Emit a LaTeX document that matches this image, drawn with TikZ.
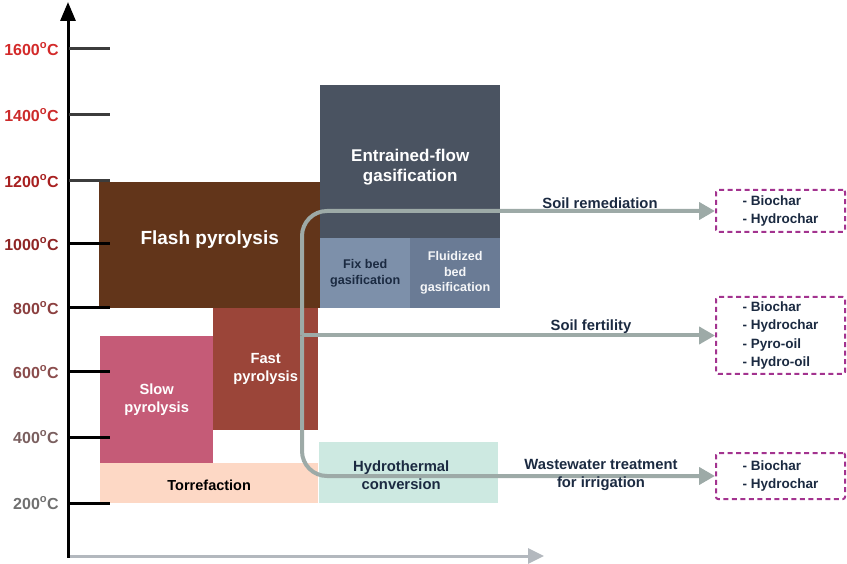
\documentclass[tikz,border=0pt]{standalone}
\usepackage{fontspec}
\setmainfont{Liberation Sans}
\usepackage{xcolor}
\usepackage{tikz}
\usetikzlibrary{positioning, calc, arrows.meta}

\definecolor{flashbrown}{HTML}{62351A}
\definecolor{entrgray}{HTML}{4A5361}
\definecolor{fixblue}{HTML}{7D90AA}
\definecolor{fluidblue}{HTML}{6A7B95}
\definecolor{slowrose}{HTML}{C55B77}
\definecolor{fastred}{HTML}{9B4539}
\definecolor{torrepeach}{HTML}{FDD8C5}
\definecolor{hydromint}{HTML}{CDE9E1}
\definecolor{flowgray}{HTML}{9DAAA7}
\definecolor{axisgray}{HTML}{B3B8BE}
\definecolor{prodpurple}{HTML}{A3338F}
\definecolor{labelnavy}{HTML}{1B2A41}
\definecolor{tickgray}{HTML}{3C3C3C}

\begin{document}
\begin{tikzpicture}[x=1pt, y=-1pt]
		\tikzstyle{stage}=[draw=none, inner sep=0pt, anchor=north west]
		\tikzstyle{stagetext}=[align=center, inner sep=0pt]
		\tikzstyle{flow}=[line width=4pt, draw=flowgray, rounded corners=25pt, -{Triangle[length=16pt, width=17pt]}]
		\tikzstyle{flowtext}=[align=center, text=labelnavy, font=\fontsize{14.8}{18}\selectfont\bfseries]
		\tikzstyle{product}=[draw=prodpurple, line width=2pt, dash pattern=on 5pt off 3.5pt, rounded corners=2pt, minimum width=129pt, align=left, text=labelnavy, font=\fontsize{13.5}{18.5}\selectfont\bfseries]
		
		\useasboundingbox (0,0) rectangle (847,564);
		
		% process windows
		\node (flash) at (99,182) [stage, fill=flashbrown, minimum width=221pt, minimum height=126pt] {};
		\node (entr) at (320,85) [stage, fill=entrgray, minimum width=180pt, minimum height=153pt] {};
		\node (fixbed) at (320,238) [stage, fill=fixblue, minimum width=90pt, minimum height=70pt] {};
		\node (fluid) at (410,238) [stage, fill=fluidblue, minimum width=90pt, minimum height=70pt] {};
		\node (slow) at (100,336) [stage, fill=slowrose, minimum width=113pt, minimum height=127pt] {};
		\node (fast) at (213,308) [stage, fill=fastred, minimum width=105pt, minimum height=122pt] {};
		\node (torre) at (100,463) [stage, fill=torrepeach, minimum width=218pt, minimum height=40pt] {};
		\node (hydro) at (319,442) [stage, fill=hydromint, minimum width=179pt, minimum height=61pt] {};
		
		\node (flashtxt) at ([yshift=6pt]flash.center) [stagetext, text=white, font=\fontsize{19}{23}\selectfont\bfseries] {Flash pyrolysis};
		\node (entrtxt) at ([yshift=-5.5pt]entr.center) [stagetext, text=white, font=\fontsize{17}{20}\selectfont\bfseries] {Entrained-flow\\gasification};
		\node (fixbedtxt) at (fixbed.center) [stagetext, text=labelnavy, font=\fontsize{12.6}{15.5}\selectfont\bfseries] {Fix bed\\gasification};
		\node (fluidtxt) at (fluid.center) [stagetext, text=white!93!fluidblue, font=\fontsize{12.6}{15.5}\selectfont\bfseries] {Fluidized\\bed\\gasification};
		\node (slowtxt) at (slow.center) [stagetext, text=white, font=\fontsize{14.7}{18}\selectfont\bfseries] {Slow\\pyrolysis};
		\node (fasttxt) at (fast.center) [stagetext, text=white, font=\fontsize{14.7}{18}\selectfont\bfseries] {Fast\\pyrolysis};
		\node (torretxt) at ([yshift=-2pt]torre.center) [stagetext, text=black, font=\fontsize{14.5}{18}\selectfont\bfseries] {Torrefaction};
		\node (hydrotxt) at ([xshift=-7.5pt, yshift=-2.5pt]hydro.center) [stagetext, text=labelnavy, font=\fontsize{14.8}{18}\selectfont\bfseries] {Hydrothermal\\conversion};
		
		% temperature axis
		\coordinate (origin) at (68,556);
		\coordinate (ytop) at (68,2);
		\coordinate (xend) at (544,556);
		\draw [line width=3pt, axisgray, -{Triangle[length=16pt, width=15pt]}] (origin) -- (xend);
		\draw [line width=3pt, black, -{Triangle[length=19pt, width=15pt]}] ([yshift=-1.5pt]origin) -- (ytop);
		
		\foreach \yy/\t/\c/\k in {49/1600/D32A2A/tickgray, 115/1400/CC2A2A/tickgray, 181/1200/A82020/tickgray, 244/1000/8F2525/black, 308/800/8B3F3F/black, 372/600/8A4C4C/black, 437/400/7A5F5F/black, 503/200/707070/black}{
			\definecolor{tcol}{HTML}{\c}
			\draw [line width=3pt, \k] (69,\yy) -- (110,\yy);
			\node (lab\t) at (59,\yy) [anchor=east, inner sep=0pt, text=tcol, font=\fontsize{16}{19}\selectfont\bfseries] {\t\textsuperscript{o}C};
		}
		
		% applications and products
		\node (out1) at (780.5,211) [product, minimum height=42pt] {- Biochar\\- Hydrochar};
		\node (out2) at (780.5,335.5) [product, minimum height=77pt] {- Biochar\\- Hydrochar\\- Pyro-oil\\- Hydro-oil};
		\node (out3) at (780.5,476) [product, minimum height=46pt] {- Biochar\\- Hydrochar};
		
		\coordinate (hub) at (302,335.5);
		\draw [flow] (hub) |- (out1.west);
		\draw [flow] (hub) -- (out2.west);
		\draw [flow] (hub) |- (out3.west);
		
		\node (remlbl) at (600,203) [flowtext] {Soil remediation};
		\node (fertlbl) at (591,326.5) [flowtext] {Soil fertility};
		\node (wastelbl) at (601,475) [flowtext] {Wastewater treatment\\for irrigation};
\end{tikzpicture}
\end{document}
